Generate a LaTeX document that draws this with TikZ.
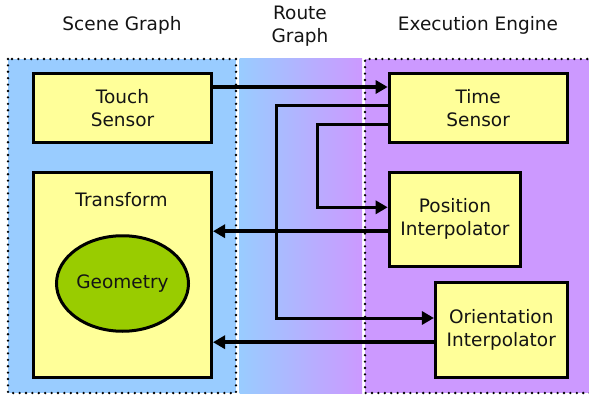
\documentclass[tikz,border=0pt]{standalone}
\usepackage{fontspec}
\setmainfont{DejaVu Sans}
\usetikzlibrary{positioning,arrows.meta,calc,shapes.geometric}
\definecolor{rgBlue}{RGB}{153,204,255}
\definecolor{rgPurple}{RGB}{204,153,255}
\definecolor{rgYellow}{RGB}{255,255,153}
\definecolor{rgGreen}{RGB}{153,204,0}
\definecolor{rgInk}{RGB}{20,20,20}
\tikzset{
    base/.style={font=\fontsize{18.5}{23}\selectfont, text=rgInk, align=center},
    heading/.style={base, anchor=base, inner sep=0pt},
    border/.style={draw=black, line width=2.6pt, line cap=round, dash pattern=on 0pt off 6.4pt},
    block/.style={base, rectangle, draw=black, line width=3pt, fill=rgYellow, inner sep=0pt},
    blob/.style={base, ellipse, draw=black, line width=3pt, fill=rgGreen, inner sep=0pt},
    route/.style={-{Triangle[length=12pt,width=13pt]}, line width=4.5pt, draw=black},
    wire/.style={route, line width=3pt}
}

\begin{document}
\begin{tikzpicture}[x=1pt, y=-1pt]
  \useasboundingbox (0,0) rectangle (589,396);

  % Panels
  \fill[rgBlue] (8,59) rectangle (236,393);
  \shade[left color=rgBlue, right color=rgPurple] (239.5,59) rectangle (362,393);
  \fill[rgPurple] (365,59) rectangle (600,393);
  \draw[border] (8,59) rectangle (236,393);
  \draw[border] (600,59) -- (365,59) -- (365,393) -- (600,393);

  % Headings
  \node[heading] (sceneHd) at (122,31) {Scene Graph};
  \node[heading] (routeHd) at (300,43) {Route\\Graph};
  \node[heading] (engineHd) at (478,31) {Execution Engine};

  % Nodes
  \node[block, minimum width=178pt, minimum height=68pt] (touch) at (122.5,108) {Touch\\Sensor};
  \node[block, minimum width=178pt, minimum height=205pt] (transform) at (122.5,274.8) {};
  \node[base, anchor=base] (transformLbl) at (121.5,206) {Transform};
  \node[blob, minimum width=132pt, minimum height=95.5pt] (geometry) at (122.5,283.5) {Geometry};

  \node[block, minimum width=178pt, minimum height=68pt] (time) at (478.2,108) {Time\\Sensor};
  \node[block, minimum width=131.6pt, minimum height=94pt] (position) at (455,219.2) {Position\\Interpolator};
  \node[block, minimum width=131.7pt, minimum height=95.3pt] (orient) at (501.3,329.8) {Orientation\\Interpolator};

  % Edges
  \draw[route] ([yshift=21pt]touch.east) coordinate (t) -- (t -| time.west);
  \draw[wire] ([yshift=2.3pt]time.west) -- ++(-111.4,0) |- ([yshift=11.8pt]orient.west);
  \draw[wire] ([yshift=-16.3pt]time.west) -- ++(-70.4,0) |- ([yshift=11.9pt]position.west);
  \draw[route] ([yshift=-12pt]position.west) coordinate (p) -- (p -| transform.east);
  \draw[route] ([yshift=-12.4pt]orient.west) coordinate (o) -- (o -| transform.east);

\end{tikzpicture}
\end{document}
